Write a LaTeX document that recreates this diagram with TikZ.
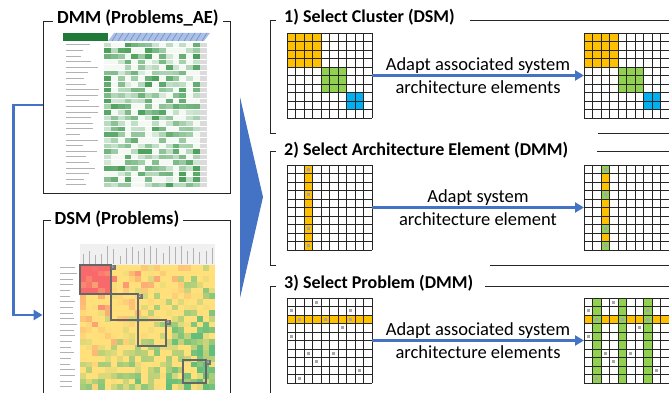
\documentclass[tikz,border=0pt]{standalone}
\usepackage{fontspec}
\setmainfont{Carlito}
\usetikzlibrary{positioning,arrows.meta}
\definecolor{flowblue}{HTML}{4472C4}
\definecolor{clorange}{HTML}{FFC000}
\definecolor{clgreen}{HTML}{92D050}
\definecolor{clblue}{HTML}{00B0F0}
\definecolor{dmmgreen}{HTML}{3E9A4E}
\definecolor{dmmdark}{HTML}{1F7A3A}
\definecolor{dsmred}{HTML}{F8696B}
\definecolor{dsmyellow}{HTML}{FFE07A}
\definecolor{dsmgreen}{HTML}{63BE7B}
\tikzset{
  frame/.style={draw=black!85, line width=0.8pt},
  boxtitle/.style={font=\bfseries\fontsize{18.5}{20}\selectfont, fill=white, inner xsep=4pt, inner ysep=1pt},
  paneltitle/.style={font=\bfseries\fontsize{18}{20}\selectfont, anchor=west, inner sep=1pt},
  note/.style={font=\fontsize{18.5}{23}\selectfont, align=center, inner sep=0pt},
  flow/.style={draw=flowblue, line width=2.4pt, -{Triangle[length=9pt,width=10pt]}},
  mat/.style={minimum width=85pt, minimum height=85pt, inner sep=0pt, outer sep=0pt},
  cluster/.style={draw=black!60, line width=1.1pt},
  tag/.style={fill=black!55, text=white, font=\fontsize{4}{4}\selectfont, minimum size=5pt, inner sep=0.5pt},
}
\begin{document}
\begin{tikzpicture}[x=1pt,y=-1pt]
\useasboundingbox (0,0) rectangle (669,393);
\newcommand{\matgrid}[1]{%
  \foreach \k in {0,...,10}{
    \draw[black!85, line width=0.7pt] ([shift={(\k*8.5,0)}]#1.north west) -- ++(0,85);
    \draw[black!85, line width=0.7pt] ([shift={(0,\k*8.5)}]#1.north west) -- ++(85,0);
  }}
\newcommand{\matcell}[4]{\fill[#4] ([shift={(#2*8.5,#3*8.5)}]#1.north west) rectangle ++(8.5,8.5);}
\newcommand{\matdot}[3]{\fill[black!35] ([shift={(#2*8.5+2.9,#3*8.5+2.9)}]#1.north west) rectangle ++(2.7,2.7);}
\pgfmathsetseed{7}

%% left side: DMM and DSM boxes
\node[frame, minimum width=187pt, minimum height=172pt] (dmm) at (136.5,107) {};
\node[boxtitle] (dmmtitle) at (138,18) {DMM (Problems\_AE)};
\node[frame, minimum width=187pt, minimum height=190pt] (dsm) at (136.5,315) {};
\node[boxtitle] (dsmtitle) at (117,219) {DSM (Problems)};

% DMM heat map
\fill[dmmdark] (63,33) rectangle (108,41);
\fill[flowblue!45] (108,41) -- (114,33) -- (210,33) -- (204,41) -- cycle;
\foreach \k in {0,...,15}
  \draw[flowblue!80, line width=0.6pt] (112+\k*6,41) -- ++(5,-8);
\foreach \row in {0,...,25}{
  \foreach \col in {0,...,13}{
    \pgfmathtruncatemacro{\pct}{ifthenelse(rnd<0.3,6,20+75*rnd)}
    \fill[dmmgreen!\pct!white] (104+\col*6.85,42+\row*5.6) rectangle ++(6.85,5.6);
  }
  \fill[black!14] (200,42+\row*5.6) rectangle ++(7,5.6);
  \pgfmathsetmacro{\len}{14+20*rnd}
  \draw[black!30, line width=0.7pt] (66,44.8+\row*5.6) -- ++(\len,0);
}
\foreach \k in {0,...,26}
  \draw[white, line width=0.3pt] (104,42+\k*5.6) -- ++(103,0);

% DSM heat map
\fill[black!6] (80,244) rectangle (215,265);
\foreach \row in {0,...,21}{
  \foreach \col in {0,...,21}{
    \pgfmathsetmacro{\v}{0.2+0.55*(\col+\row)/42+0.45*(rnd-0.5)-ifthenelse(and(\col<5,\row<5),0.32,0)}
    \pgfmathtruncatemacro{\py}{min(100,max(0,\v/0.32*100))}
    \pgfmathtruncatemacro{\pg}{min(100,max(0,(\v-0.5)/0.3*100))}
    \fill[dsmgreen!\pg!dsmyellow!\py!dsmred] (80+\col*6.14,265+\row*5.68) rectangle ++(6.15,5.69);
  }
  \pgfmathsetmacro{\len}{10+8*rnd}
  \draw[black!30, line width=0.6pt] (60,267.5+\row*5.68) -- ++(\len,0);
  \pgfmathsetmacro{\len}{8+12*rnd}
  \draw[black!30, line width=0.5pt] (83+\row*6.14,264) -- ++(0,-\len);
}
\draw[cluster] (80,265) rectangle (111,294);
\draw[cluster] (111,294) rectangle (138,320);
\draw[cluster] (138,320) rectangle (166,346);
\draw[cluster] (183,360) rectangle (206,383);
\node[tag] (k1) at (113,267) {1};
\node[tag] (k2) at (140,296) {2};
\node[tag] (k3) at (168,322) {3};
\node[tag] (k4) at (208,362) {4};

% DMM feeds the DSM
\draw[flow] ([yshift=2pt]dmm.west) -- ++(-29,0) |- (dsm.west);

% big chevron
\fill[flowblue] (240,97) -- (263,197) -- (240,298) -- cycle;

%% right side: the three steps
\draw[frame] (276,20) -- (270,20) -- (270,133) -- (276,133);
\draw[frame] (470,20) -- (669,20);
\draw[frame] (598,133) -- (669,133);
\draw[frame] (276,151) -- (270,151) -- (270,265) -- (276,265);
\draw[frame] (597,151) -- (669,151);
\draw[frame] (490,265) -- (669,265);
\draw[frame] (276,286) -- (270,286) -- (270,393);
\draw[frame] (485,286) -- (669,286);
\node[paneltitle] (s1) at (283,17) {1) Select Cluster (DSM)};
\node[paneltitle] (s2) at (283,150) {2) Select Architecture Element (DMM)};
\node[paneltitle] (s3) at (283,283) {3) Select Problem (DMM)};

% step 1
\node[mat] (c1a) at (329.5,75.5) {};
\node[mat] (c1b) at (626.5,75.5) {};
\foreach \m in {c1a,c1b}{
  \foreach \i in {0,...,3}{\foreach \j in {0,...,3}{\matcell{\m}{\i}{\j}{clorange}}}
  \foreach \i in {4,...,6}{\foreach \j in {4,...,6}{\matcell{\m}{\i}{\j}{clgreen}}}
  \foreach \i in {7,8}{\foreach \j in {7,8}{\matcell{\m}{\i}{\j}{clblue}}}
  \matgrid{\m}
}
\draw[flow] (c1a) -- (c1b) node[midway, note] (t1) {Adapt associated system\\architecture elements};

% step 2
\node[mat] (c2a) at (329.5,207.5) {};
\node[mat] (c2b) at (626.5,207.5) {};
\foreach \j in {0,...,9}{\matcell{c2a}{2}{\j}{clorange}\matcell{c2b}{2}{\j}{clorange}}
\foreach \j in {0,3,7,9}{\matcell{c2b}{2}{\j}{clgreen}\matdot{c2a}{2}{\j}\matdot{c2b}{2}{\j}}
\matgrid{c2a}
\matgrid{c2b}
\draw[flow] (c2a) -- (c2b) node[midway, note] (t2) {Adapt system\\architecture element};

% step 3
\node[mat] (c3a) at (329.5,340.5) {};
\node[mat] (c3b) at (626.5,340.5) {};
\foreach \i in {0,...,9}{\matcell{c3a}{\i}{2}{clorange}\matcell{c3b}{\i}{2}{clorange}}
\foreach \i in {1,4,7}{\foreach \j in {0,...,9}{\matcell{c3b}{\i}{\j}{clgreen}}}
\foreach \m in {c3a,c3b}{
  \foreach \i/\j in {3/0,0/1,7/1,1/2,4/2,7/2,6/3,0/4,2/6,5/6,3/7,8/8,1/9}{\matdot{\m}{\i}{\j}}
  \matgrid{\m}
}
\draw[flow] (c3a) -- (c3b) node[midway, note] (t3) {Adapt associated system\\architecture elements};
\end{tikzpicture}
\end{document}
